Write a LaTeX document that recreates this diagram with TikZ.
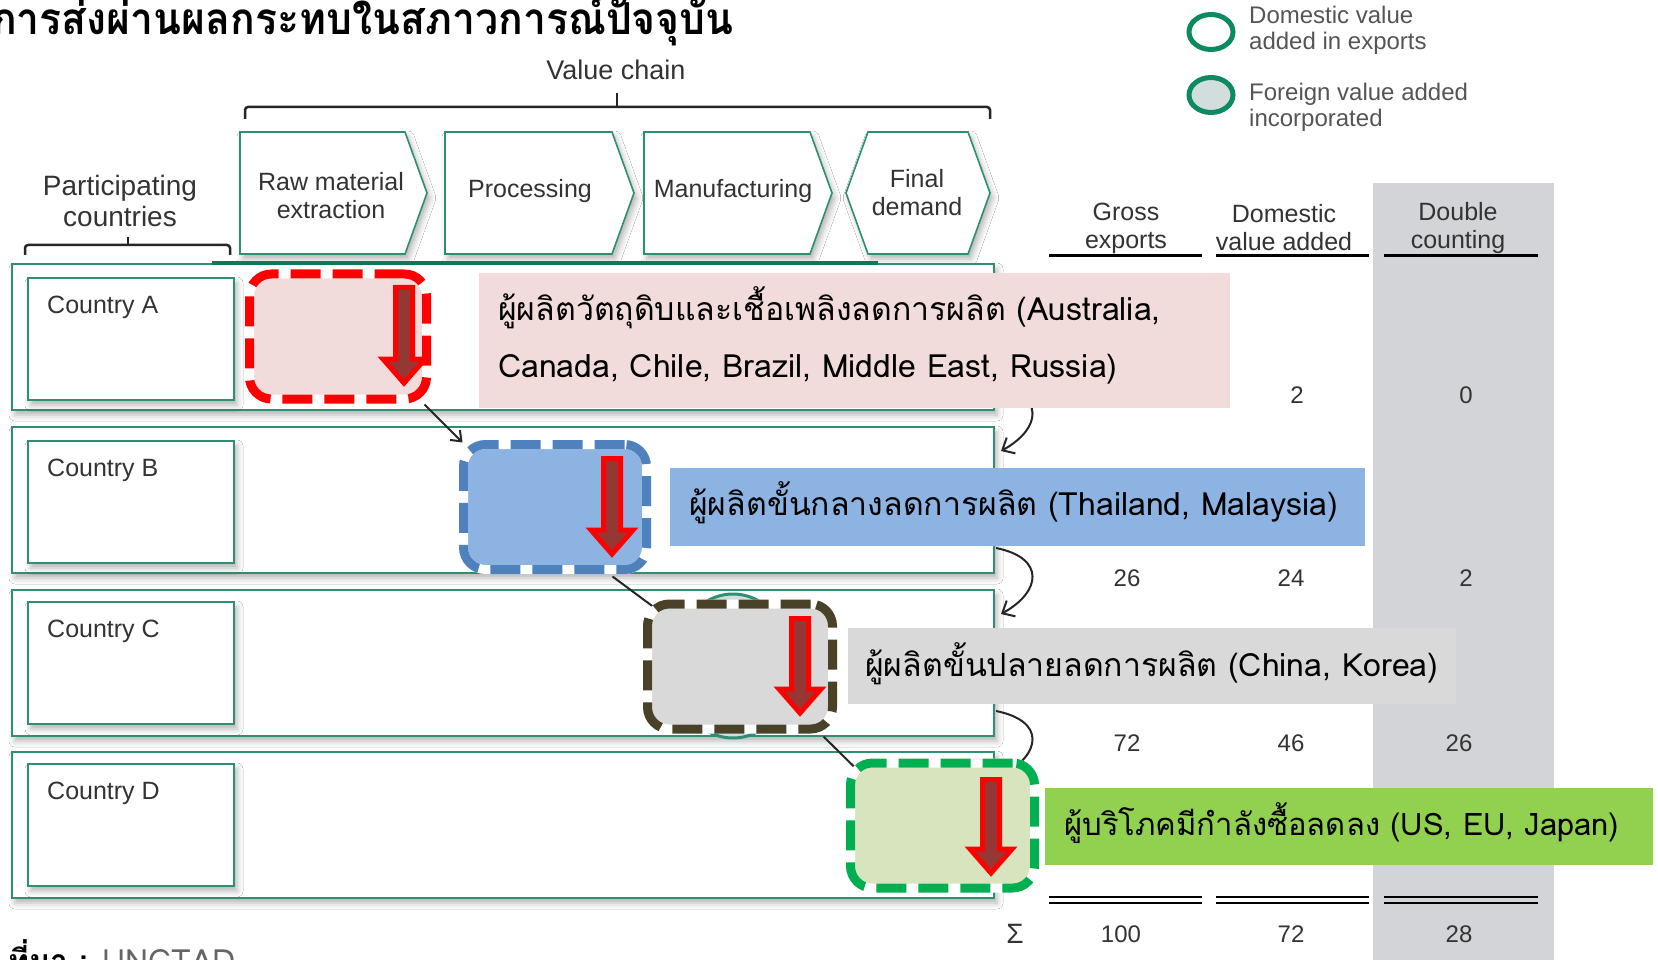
\documentclass[tikz,border=0pt]{standalone}
\usepackage{fontspec}
\setmainfont{Liberation Sans}
\newfontfamily\thaifont[Script=Thai]{Loma}
\newfontfamily\thaititle[Script=Thai,FakeStretch=0.93]{Loma}
\usetikzlibrary{calc,arrows.meta,shadows.blur,shapes.geometric}
\definecolor{cteal}{HTML}{2E8F72}
\definecolor{cdteal}{HTML}{0B7A58}
\definecolor{cring}{HTML}{0D8A62}
\definecolor{cringfill}{HTML}{D2DEDD}
\definecolor{ccol}{HTML}{D3D4D8}
\definecolor{cpink}{HTML}{F2DCDB}
\definecolor{cblue}{HTML}{8DB3E2}
\definecolor{cbluedash}{HTML}{4F81BD}
\definecolor{cgrayfill}{HTML}{D9D9D9}
\definecolor{cdarkdash}{HTML}{4A4129}
\definecolor{cgreenfill}{HTML}{D7E4BD}
\definecolor{cgreendash}{HTML}{00B050}
\definecolor{cgreencall}{HTML}{92D050}
\definecolor{cbrown}{HTML}{953735}
\definecolor{ctext}{HTML}{333333}
\definecolor{clegtext}{HTML}{555555}
\definecolor{csrc}{HTML}{666666}
\newcommand{\downarr}[3]{\draw[redarr] (#1-8.5,#2) -- (#1+8.5,#2) -- (#1+8.5,#3-24) -- (#1+21,#3-24) -- (#1,#3) -- (#1-21,#3-24) -- (#1-8.5,#3-24) -- cycle;}
\tikzset{
  softshadow/.style={blur shadow={shadow xshift=3pt, shadow yshift=-5pt, shadow blur radius=6pt, shadow opacity=30}},
  rowframe/.style={draw=cteal, line width=2pt, fill=white, softshadow, minimum width=982pt, minimum height=146pt, inner sep=0pt},
  cbox/.style={draw=cteal, line width=2pt, fill=white, softshadow, minimum width=206pt, minimum height=122pt, inner sep=0pt},
  chev/.style={draw=cteal, line width=1.6pt, fill=white, softshadow},
  lab/.style={font=\fontsize{25}{28}\selectfont, text=ctext, inner sep=0pt, align=center},
  legtext/.style={font=\fontsize{24}{26}\selectfont, text=clegtext, inner sep=0pt, align=left},
  num/.style={font=\fontsize{24}{26}\selectfont, text=ctext, inner sep=0pt},
  legring/.style={ellipse, draw=cring, line width=5pt, minimum width=44pt, minimum height=35pt, inner sep=0pt},
  dbox/.style={rounded corners=22pt, line width=9pt, draw=white, inner sep=0pt, minimum height=125pt,
     postaction={draw=#1, line width=9pt, dash pattern=on 30pt off 12pt}},
  redarr/.style={fill=cbrown, draw=red, line width=5pt, miter limit=10},
  callout/.style={inner sep=0pt},
  ctext/.style={font=\thaifont\fontsize{32}{34}\selectfont, text=black, inner sep=0pt},
  conn/.style={draw=black!85, line width=2pt, -{Straight Barb[length=9pt,width=14pt]}},
  curv/.style={draw=black!85, line width=2pt, -{Straight Barb[length=10pt,width=18pt]}},
  brace/.style={draw=black!85, line width=2.5pt, rounded corners=3pt},
}
\begin{document}
\begin{tikzpicture}[x=1pt,y=-1pt]
\useasboundingbox (0,0) rectangle (1658,960);
\fill[white] (0,0) rectangle (1658,960);
% gray table column
\fill[ccol] (1373,183) rectangle (1554,960);

% title
\node[anchor=base west, inner sep=0pt, font=\thaititle\bfseries\fontsize{44}{48}\selectfont] (title) at (-8,35) {การส่งผ่านผลกระทบในสภาวการณ์ปัจจุบัน};

% legend
\node[legring, fill=white] (legA) at (1211,32) {};
\node[legtext, anchor=west] (legAt) at (1249,30) {Domestic value\\added in exports};
\node[legring, fill=cringfill] (legB) at (1211,95) {};
\node[legtext, anchor=west] (legBt) at (1249,107) {Foreign value added\\incorporated};

% value chain brace
\node[lab, font=\fontsize{27}{30}\selectfont] (vc) at (616,70) {Value chain};
\draw[brace] (245,119) -- (245,107) -- (990,107) -- (990,119);
\draw[brace] (617,107) -- (617,93);

% participating brace
\node[lab, font=\fontsize{28}{31}\selectfont] (pc) at (120,201) {Participating\\countries};
\draw[brace] (25,255) -- (25,245) -- (230,245) -- (230,255);
\draw[brace] (128,245) -- (128,237);

% chevrons
\draw[chev] (240,132) -- (405,132) -- (427,193) -- (405,254) -- (240,254) -- cycle;
\draw[chev] (445,132) -- (612,132) -- (634,193) -- (612,254) -- (445,254) -- cycle;
\draw[chev] (644,132) -- (810,132) -- (832,193) -- (810,254) -- (644,254) -- cycle;
\draw[chev] (846,193) -- (868,132) -- (968,132) -- (990,193) -- (968,254) -- (868,254) -- cycle;
\node[lab] (raw) at (331,196) {Raw material\\extraction};
\node[lab] (proc) at (530,191) {Processing};
\node[lab] (manu) at (733,191) {Manufacturing};
\node[lab] (fin) at (917,193) {Final\\demand};

% table headers
\node[lab] (h1) at (1126,228) {Gross\\exports};
\node[lab] (h2) at (1284,228) {Domestic\\value added};
\node[lab] (h3) at (1458,228) {Double\\counting};
\draw[line width=3pt] (1049,256) -- (1202,256);
\draw[line width=3pt] (1216,256) -- (1369,256);
\draw[line width=3pt] (1384,256) -- (1538,256);

% rows
\node[rowframe] (rowA) at (503,337) {};
\node[rowframe] (rowB) at (503,500) {};
\node[rowframe] (rowC) at (503,663) {};
\node[rowframe] (rowD) at (503,825) {};
\draw[cdteal, line width=4pt] (212,263) -- (878,263);

\node[cbox] (cA) at (131,339) {};
\node[cbox] (cB) at (131,502) {};
\node[cbox] (cC) at (131,663) {};
\node[cbox] (cD) at (131,825) {};
\node[lab, anchor=west] (cAt) at (cA.north west) [xshift=20pt, yshift=-30pt] {Country A};
\node[lab, anchor=west] (cBt) at (cB.north west) [xshift=20pt, yshift=-30pt] {Country B};
\node[lab, anchor=west] (cCt) at (cC.north west) [xshift=20pt, yshift=-30pt] {Country C};
\node[lab, anchor=west] (cDt) at (cD.north west) [xshift=20pt, yshift=-30pt] {Country D};

% table numbers
\node[num] (nA2) at (1297,395) {2};
\node[num] (nA3) at (1466,395) {0};
\node[num] (nB1) at (1127,578) {26};
\node[num] (nB2) at (1291,578) {24};
\node[num] (nB3) at (1466,578) {2};
\node[num] (nC1) at (1127,743) {72};
\node[num] (nC2) at (1291,743) {46};
\node[num] (nC3) at (1459,743) {26};
\foreach \a/\b in {1049/1202,1216/1369,1384/1538}{
  \draw[line width=2.5pt] (\a,897) -- (\b,897);
  \draw[line width=2.5pt] (\a,903) -- (\b,903);
}
\node[num, font=\fontsize{28}{30}\selectfont] (sig) at (1015,934) {Σ};
\node[num] (s1) at (1121,934) {100};
\node[num] (s2) at (1291,934) {72};
\node[num] (s3) at (1459,934) {28};

% curved arrows between rows
\draw[curv] ($(rowA.south east)+(1,-26)$) .. controls +(50,10) and +(40,-22) .. ($(rowB.north east)+(6,25)$);
\draw[curv] ($(rowB.south east)+(1,-26)$) .. controls +(50,10) and +(40,-22) .. ($(rowC.north east)+(6,25)$);
\draw[curv] ($(rowC.south east)+(1,-26)$) .. controls +(50,10) and +(40,-22) .. ($(rowD.north east)+(6,25)$);

% ellipse behind box C
\node[ellipse, draw=cteal, line width=3pt, fill=cringfill, minimum width=120pt, minimum height=144pt] (ellC) at (733,666) {};

% dashed boxes and connectors
\node[dbox=red, fill=cpink, minimum width=177pt] (bA) at (338,336.5) {};
\node[dbox=cbluedash, fill=cblue, minimum width=183pt] (bB) at (555,507) {};
\draw[conn] ($(bA.south east)+(-6.5,1)$) -- ($(bB.north west)+(3.5,2.5)$);
\draw[conn] ($(bB.south east)+(-38.5,2.5)$) -- ($(bB.south east)+(12,40)$);
\node[dbox=cdarkdash, fill=cgrayfill, minimum width=185pt] (bC) at (740,666.5) {};
\draw[conn] ($(bC.south east)+(-13.5,3)$) -- ($(bC.south east)+(28,44)$);
\node[dbox=cgreendash, fill=cgreenfill, minimum width=184pt] (bD) at (942.5,825.5) {};

% red arrows
\downarr{404}{287.5}{383}
\downarr{612}{458.5}{554}
\downarr{800}{618.5}{713}
\downarr{991}{779.5}{873}

% callouts
\node[callout, fill=cpink, minimum width=751pt, minimum height=135pt] (kA) at (854.5,340.5) {};
\node[ctext, anchor=base west] (kAt1) at (498,320) {ผู้ผลิตวัตถุดิบและเชื้อเพลิงลดการผลิต (Australia,};
\node[ctext, anchor=base west] (kAt2) at (498,377) {Canada, Chile, Brazil, Middle East, Russia)};
\node[callout, fill=cblue, minimum width=695pt, minimum height=78pt] (kB) at (1017.5,507) {};
\node[ctext, anchor=base west] (kBt) at (689,515) {ผู้ผลิตขั้นกลางลดการผลิต (Thailand, Malaysia)};
\node[callout, fill=cgrayfill, minimum width=608pt, minimum height=76pt] (kC) at (1152,666) {};
\node[ctext, anchor=base west] (kCt) at (865,676) {ผู้ผลิตขั้นปลายลดการผลิต (China, Korea)};
\node[callout, fill=cgreencall, minimum width=608pt, minimum height=77pt] (kD) at (1349,826.5) {};
\node[ctext, anchor=base west, font=\thaifont\fontsize{31}{34}\selectfont] (kDt) at (1064,835) {ผู้บริโภคมีกำลังซื้อลดลง (US, EU, Japan)};

% source
\node[anchor=base west, inner sep=0pt, font=\thaifont\fontsize{32}{34}\selectfont] (src) at (8,972) {\textbf{ที่มา :} \textcolor{csrc}{UNCTAD}};
\end{tikzpicture}
\end{document}
